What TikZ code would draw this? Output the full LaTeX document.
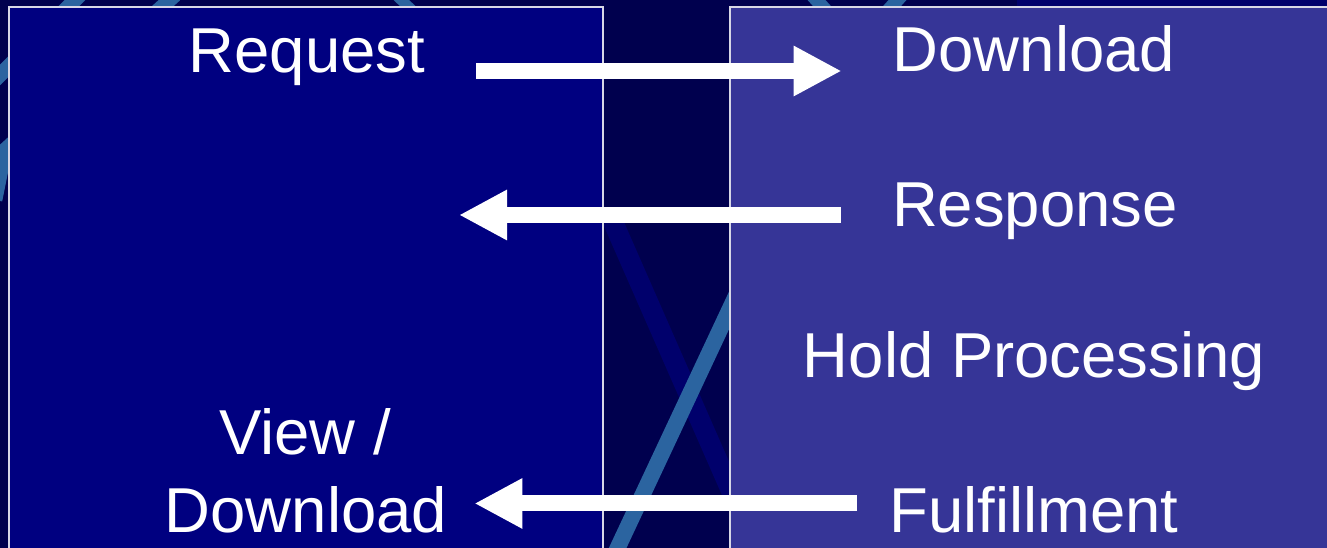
\documentclass[tikz,border=0pt]{standalone}
\usepackage{fontspec}
\setmainfont{Liberation Sans}
\usetikzlibrary{arrows.meta}
\definecolor{slidebg}{RGB}{0,0,78}
\definecolor{clientfill}{RGB}{0,0,128}
\definecolor{serverfill}{RGB}{54,53,151}
\definecolor{streak}{RGB}{43,100,160}
\definecolor{faintstreak}{RGB}{0,0,108}
\definecolor{frameline}{RGB}{215,215,230}
\tikzset{
  lbl/.style={text=white,inner sep=0pt,font=\fontsize{47.6}{57.75}\selectfont},
  panel/.style={draw=frameline,line width=1.1pt},
  bigarrow/.style={white,line width=12pt,-{Triangle[width=35.25pt,length=36pt]}}
}
\begin{document}
\begin{tikzpicture}[x=0.75pt,y=-0.75pt]
    \useasboundingbox (0,0) rectangle (1327,548);
    \clip (0,0) rectangle (1327,548);
    \fill[slidebg] (0,0) rectangle (1327,548);
    \fill[faintstreak] (1017,0) rectangle (1327,8);
    \draw[faintstreak,line width=15pt] (610,215) -- (735,500);
    \draw[streak,line width=12pt] (612,560) -- (748,270);
    \draw[streak,line width=11pt] (80,-5) -- (-5,80);
    \draw[streak,line width=11pt] (175,-5) -- (5,150) -- (-5,200);
    \draw[streak,line width=8pt] (396,-5) -- (414,12);
    \foreach \x/\d in {812/18,902/-18}
    \draw[streak,line width=10pt] (\x,-5) -- +(\d,20);
    \draw[panel,fill=clientfill] (9,7) rectangle (603,570);
    \draw[panel,fill=serverfill] (730,7) rectangle (1345,570);
    \node[lbl,anchor=base] (req) at (307,73) {Request};
    \node[lbl,anchor=base] (view) at (305,455) {View /};
    \node[lbl,anchor=base] (dlleft) at (306,532) {Download};
    \node[lbl,anchor=base] (dlright) at (1034,72) {Download};
    \node[lbl,anchor=base] (resp) at (1035,227) {Response};
    \node[lbl,anchor=base] (hold) at (1034,378) {Hold Processing};
    \node[lbl,anchor=base] (fulfil) at (1034,532) {Fulfillment};
    \coordinate (respend) at (459,215);
    \draw[bigarrow] ([shift={(38.25pt,1.5pt)}]req.base east) -- ([shift={(-38.25pt,0.75pt)}]dlright.base west);
    \draw[bigarrow] ([shift={(-38.25pt,9pt)}]resp.base west) -- (respend);
    \draw[bigarrow] ([shift={(-24pt,21.4pt)}]fulfil.base west) -- ([shift={(20.25pt,21.4pt)}]dlleft.base east);
\end{tikzpicture}
\end{document}
